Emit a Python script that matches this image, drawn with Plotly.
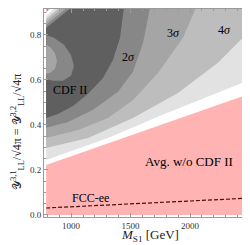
import plotly.graph_objects as go

# ---------------- data ----------------
M_EDGE = [790, 2500]          # mass range of the scan (GeV)
Y_TOP = 0.92                  # top of scanned coupling range

# lower (outer) boundaries of the CDF II preferred regions: (M, y)
sig1_lo_M = [790, 890, 1016, 1142, 1268, 1352, 1411, 1444]
sig1_lo_y = [0.431, 0.449, 0.484, 0.538, 0.609, 0.689, 0.787, 0.92]
sig2_lo_M = [790, 974, 1184, 1394, 1520, 1604, 1663]
sig2_lo_y = [0.387, 0.413, 0.467, 0.547, 0.636, 0.764, 0.92]
sig3_lo_M = [790, 1058, 1310, 1520, 1730, 1940, 2049]
sig3_lo_y = [0.342, 0.378, 0.431, 0.511, 0.631, 0.787, 0.92]
sig4_lo_M = [790, 1142, 1520, 1898, 2234, 2500]
sig4_lo_y = [0.298, 0.342, 0.431, 0.542, 0.676, 0.818]
sig5_lo_M = [790, 1310, 1764, 2150, 2500]
sig5_lo_y = [0.244, 0.342, 0.444, 0.524, 0.600]

# upper boundaries (straight, from left edge to top edge): (y at left edge, M at top edge)
upper_left_y = {"pink": 0.898, "5": 0.884, "4": 0.871, "3": 0.858, "2": 0.844, "1": 0.831}
upper_top_M = {"pink": 831, "5": 864, "4": 898, "3": 932, "2": 965, "1": 999}

# inner island (worse fit again) on the left edge
isl2_M = [790, 856, 940, 999, 1024, 999, 932, 848, 790]
isl2_y = [0.800, 0.787, 0.756, 0.711, 0.662, 0.618, 0.596, 0.596, 0.604]
isl3_M = [790, 822, 864, 881, 864, 822, 790]
isl3_y = [0.756, 0.747, 0.720, 0.684, 0.649, 0.631, 0.627]

# W-mass average without CDF II (allowed band)
avg_M = [790, 2500]
avg_top_y = [0.222, 0.538]

# FCC-ee projection
fcc_M = [790, 2500]
fcc_y = [0.031, 0.075]

x_ticks = [1000, 1500, 2000, 2500]
y_ticks = [0.0, 0.2, 0.4, 0.6, 0.8]

# ---------------- styling ----------------
GRAYS = {"5": "#e2e2e2", "4": "#bdbdbd", "3": "#a5a5a5", "2": "#878787", "1": "#5f5f5f"}
PINK = "#ffb3b3"
SERIF = "Liberation Serif"

fig = go.Figure()


def region(lo_M, lo_y, key):
    xs = list(lo_M)
    ys = list(lo_y)
    if ys[-1] < Y_TOP:  # ends on the right edge
        xs.append(M_EDGE[1]); ys.append(Y_TOP)
    xs += [upper_top_M[key], M_EDGE[0]]
    ys += [Y_TOP, upper_left_y[key]]
    return xs, ys


for key, lo_M, lo_y in [("5", sig5_lo_M, sig5_lo_y), ("4", sig4_lo_M, sig4_lo_y),
                        ("3", sig3_lo_M, sig3_lo_y), ("2", sig2_lo_M, sig2_lo_y),
                        ("1", sig1_lo_M, sig1_lo_y)]:
    xs, ys = region(lo_M, lo_y, key)
    fig.add_trace(go.Scatter(x=xs, y=ys, fill="toself", fillcolor=GRAYS[key],
                             mode="lines", line=dict(width=0), hoverinfo="skip"))

fig.add_trace(go.Scatter(x=isl2_M, y=isl2_y, fill="toself", fillcolor=GRAYS["2"],
                         mode="lines", line=dict(width=0), hoverinfo="skip"))
fig.add_trace(go.Scatter(x=isl3_M, y=isl3_y, fill="toself", fillcolor=GRAYS["3"],
                         mode="lines", line=dict(width=0), hoverinfo="skip"))

# average band (lower) and upper-left corner
fig.add_trace(go.Scatter(x=[avg_M[0], avg_M[1], avg_M[1], avg_M[0]],
                         y=[0, 0, avg_top_y[1], avg_top_y[0]],
                         fill="toself", fillcolor=PINK, mode="lines", line=dict(width=0),
                         hoverinfo="skip"))
fig.add_trace(go.Scatter(x=[M_EDGE[0], upper_top_M["pink"], M_EDGE[0]],
                         y=[upper_left_y["pink"], Y_TOP, Y_TOP],
                         fill="toself", fillcolor=PINK, mode="lines", line=dict(width=0),
                         hoverinfo="skip"))

fig.add_trace(go.Scatter(x=fcc_M, y=fcc_y, mode="lines",
                         line=dict(color="#4a1010", width=1.2, dash="4px,2px"),
                         hoverinfo="skip"))

ann = dict(showarrow=False, font=dict(family=SERIF, size=12, color="black"))
fig.add_annotation(x=990, y=0.556, text="CDF II", **ann)
fig.add_annotation(x=1486, y=0.702, text="2<i>σ</i>", **ann)
fig.add_annotation(x=1864, y=0.809, text="3<i>σ</i>", **ann)
fig.add_annotation(x=2293, y=0.822, text="4<i>σ</i>", **ann)
fig.add_annotation(x=1990, y=0.236, text="Avg. w/o CDF II",
                   showarrow=False, font=dict(family=SERIF, size=13, color="black"))
fig.add_annotation(x=1159, y=0.076, text="FCC-ee", **ann)

# axis titles placed as paper annotations
fig.add_annotation(xref="paper", yref="paper", x=0.512, y=-0.091, xanchor="center", yanchor="middle",
                   text="<i>M</i><sub>S1</sub> [GeV]", showarrow=False,
                   font=dict(family=SERIF, size=13, color="#222"))
fig.add_annotation(xref="paper", yref="paper", x=-0.125, y=0.41, xanchor="center", yanchor="middle",
                   textangle=-90,
                   text="𝒴<sup>3,1</sup><sub>LL</sub>/√4π = 𝒴<sup>3,2</sup><sub>LL</sub>/√4π",
                   showarrow=False, font=dict(family=SERIF, size=12, color="#222"))

axis_common = dict(showline=True, linecolor="#9a9a9a", linewidth=1, mirror="ticks",
                   ticks="inside", ticklen=4, tickcolor="#9a9a9a", showgrid=False,
                   zeroline=False, tickfont=dict(family=SERIF, size=9, color="#333"))

fig.update_xaxes(range=[772, 2512], tickvals=x_ticks,
                 minor=dict(dtick=100, ticks="inside", ticklen=2, tickcolor="#9a9a9a"),
                 **axis_common)
fig.update_yaxes(range=[-0.009, 0.915], tickvals=y_ticks, tickformat=".1f",
                 minor=dict(dtick=0.05, ticks="inside", ticklen=2, tickcolor="#9a9a9a"),
                 **axis_common)

fig.update_layout(width=250, height=245, margin=dict(l=36, r=7, t=1, b=36),
                  paper_bgcolor="white", plot_bgcolor="white", showlegend=False)

fig.write_html("out.html")
